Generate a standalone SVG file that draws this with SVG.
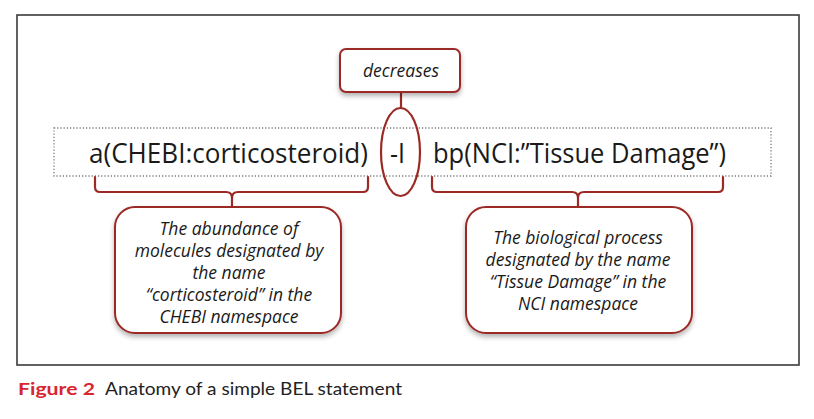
<svg xmlns="http://www.w3.org/2000/svg" width="814" height="419" viewBox="0 0 814 419">
<defs>
<style>
.frame{fill:#fff;stroke:#3a3a3a;stroke-width:1.6}
.dots{fill:none;stroke:#777;stroke-width:1.3;stroke-dasharray:1.2 2}
.red{fill:none;stroke:#9b2a25;stroke-width:2.2;stroke-linejoin:round;stroke-linecap:round}
.box{fill:#fff;stroke:#9b2a25;stroke-width:2}
.main{font-family:"Open Sans","Noto Sans",sans-serif;font-size:28px;fill:#1a1a1a}
.lbl{font-family:"Open Sans","Noto Sans",sans-serif;font-style:italic;font-size:17.5px;fill:#1a1a1a;text-anchor:middle}
.cap{font-family:Lato,"Open Sans",sans-serif;font-size:17px;fill:#222}
</style>
<filter id="sh" x="-10%" y="-10%" width="120%" height="130%">
<feDropShadow dx="0" dy="3" stdDeviation="2.5" flood-color="#000" flood-opacity="0.3"/>
</filter>
</defs>
<rect class="frame" x="17" y="15" width="782" height="350"/>
<rect class="dots" x="54" y="128" width="717" height="48"/>
<g id="statement">
<text class="main" x="89" y="163" textLength="279" lengthAdjust="spacingAndGlyphs">a(CHEBI:corticosteroid)</text>
<text class="main" x="390" y="163" textLength="15" lengthAdjust="spacingAndGlyphs">-I</text>
<text class="main" x="433" y="163" textLength="293" lengthAdjust="spacingAndGlyphs">bp(NCI:”Tissue Damage”)</text>
</g>
<g id="connectors">
<line class="red" x1="401" y1="92" x2="401" y2="108"/>
<ellipse class="red" cx="400.5" cy="152" rx="19.5" ry="44"/>
<path class="red" d="M95,177 V187 Q95,192 100,192 H226 Q232,192 232,198 V207 M368,177 V187 Q368,192 363,192 H238 Q232,192 232,198"/>
<path class="red" d="M432,177 V187 Q432,192 437,192 H572 Q578,192 578,198 V207 M723,177 V187 Q723,192 718,192 H584 Q578,192 578,198"/>
</g>
<g id="decreases">
<rect class="box" filter="url(#sh)" x="340" y="49" width="120" height="43" rx="6"/>
<text class="lbl" x="401" y="77" font-size="18.5">decreases</text>
</g>
<g id="abundance">
<rect class="box" filter="url(#sh)" x="115" y="207" width="226" height="126" rx="20"/>
<text class="lbl" x="229" y="235">The abundance of</text>
<text class="lbl" x="229" y="257">molecules designated by</text>
<text class="lbl" x="229" y="279">the name</text>
<text class="lbl" x="229" y="301">“corticosteroid” in the</text>
<text class="lbl" x="229" y="323">CHEBI namespace</text>
</g>
<g id="process">
<rect class="box" filter="url(#sh)" x="466" y="207" width="226" height="126" rx="20"/>
<text class="lbl" x="578" y="244">The biological process</text>
<text class="lbl" x="578" y="266">designated by the name</text>
<text class="lbl" x="578" y="288">“Tissue Damage” in the</text>
<text class="lbl" x="578" y="310">NCI namespace</text>
</g>
<g id="caption">
<text class="cap" x="18" y="395" font-weight="bold" textLength="77" lengthAdjust="spacingAndGlyphs" style="fill:#d7262e">Figure 2</text>
<text class="cap" x="105" y="395" textLength="297" lengthAdjust="spacingAndGlyphs">Anatomy of a simple BEL statement</text>
</g>
</svg>
